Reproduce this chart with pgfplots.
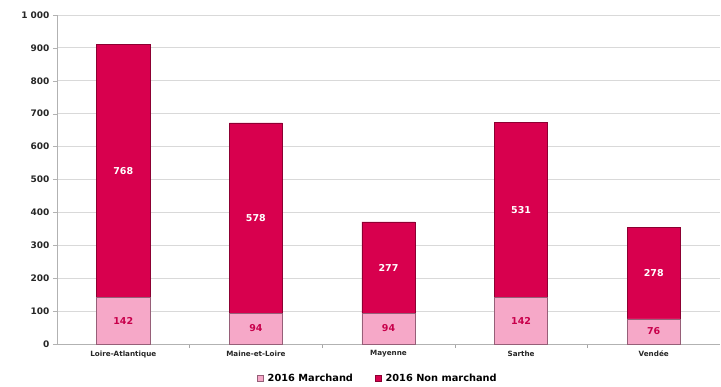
\documentclass[border=0pt]{standalone}
\usepackage{fontspec}
\setmainfont{DejaVu Sans}
\usepackage{pgfplots}
\pgfplotsset{compat=1.18}
\definecolor{nonm}{RGB}{216,0,78}
\definecolor{nonmedge}{RGB}{140,0,50}
\definecolor{march}{RGB}{246,168,200}
\definecolor{marchedge}{RGB}{150,95,120}
\definecolor{gridc}{RGB}{217,217,217}
\definecolor{labc}{RGB}{200,0,75}
\begin{document}
\begin{tikzpicture}
\begin{axis}[
  name=ax,
  scale only axis, width=663pt, height=329pt,
  ybar stacked, bar width=0.4,
  xmin=-0.5, xmax=4.5, ymin=0, ymax=1000,
  xtick={0,1,2,3,4},
  xticklabels={Loire-Atlantique,Maine-et-Loire,Mayenne,Sarthe,Vendée},
  minor xtick={0.5,1.5,2.5,3.5},
  major x tick style={draw=none},
  minor x tick style={draw=gray!70, line width=0.6pt},
  minor tick length=4pt,
  tick align=outside,
  ytick={0,100,...,1000},
  major y tick style={draw=gray!60},
  major tick length=4pt,
  ymajorgrids, grid style={gridc, line width=0.8pt},
  axis x line*=bottom, axis y line*=left,
  axis line style={draw=gray!60, line width=0.8pt},
  /pgf/number format/.cd, assume math mode=true, 1000 sep={~},
  /pgfplots/.cd,
  yticklabel style={font=\bfseries\fontsize{9}{10}\selectfont, text=black!85},
  xticklabel style={font=\bfseries\fontsize{7.2}{8}\selectfont, text=black!85, yshift=1pt},
  legend style={at={(0.484,-0.078)}, anchor=north, draw=none, legend columns=2,
    font=\bfseries\fontsize{9.8}{11}\selectfont, column sep=2pt,
    /tikz/every even column/.append style={column sep=20pt}},
  legend image code/.code={\draw[#1] (0pt,-3pt) rectangle (6pt,3pt);},
  clip=false,
]
\addplot[fill=march, draw=marchedge, line width=0.6pt] coordinates {(0,142) (1,94) (2,94) (3,142) (4,76)};
\addlegendentry{2016 Marchand}
\addplot[fill=nonm, draw=nonmedge, line width=0.6pt] coordinates {(0,768) (1,578) (2,277) (3,531) (4,278)};
\addlegendentry{2016 Non marchand}
\end{axis}
\path ([shift={(-57pt,-36pt)}]ax.south west) rectangle ([shift={(1pt,15pt)}]ax.north east);
\begin{axis}[
  scale only axis, width=663pt, height=329pt, at={(ax.south west)}, anchor=south west,
  xmin=-0.5, xmax=4.5, ymin=0, ymax=1000, hide axis, clip=false,
  nodes near coords, point meta=explicit symbolic,
]
\addplot[only marks, mark=none, nodes near coords style={anchor=center, text=white, font=\bfseries\fontsize{9.5}{11}\selectfont}]
  coordinates {(0,526)[768] (1,383)[578] (2,232.5)[277] (3,407.5)[531] (4,215)[278]};
\addplot[only marks, mark=none, nodes near coords style={anchor=center, text=labc, font=\bfseries\fontsize{9.5}{11}\selectfont}]
  coordinates {(0,71)[142] (1,47)[94] (2,47)[94] (3,71)[142] (4,38)[76]};
\end{axis}
\end{tikzpicture}
\end{document}
